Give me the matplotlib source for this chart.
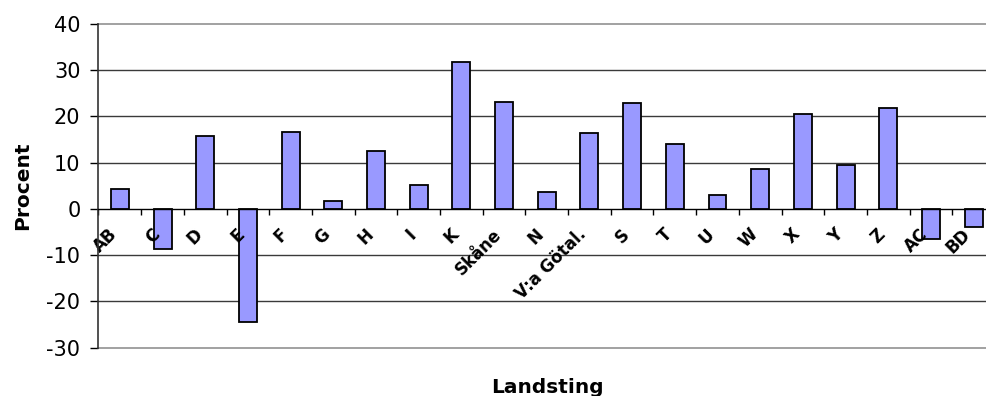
import matplotlib
matplotlib.use("Agg")
import matplotlib.pyplot as plt
import numpy as np

categories = ["AB", "C", "D", "E", "F", "G", "H", "I", "K", "Skåne", "N",
              "V:a Götal.", "S", "T", "U", "W", "X", "Y", "Z", "AC", "BD"]
values = [4.3, -8.7, 15.7, -24.5, 16.7, 1.8, 12.6, 5.1, 31.8, 23.2, 3.6,
          16.5, 22.9, 14.0, 2.9, 8.7, 20.6, 9.5, 21.9, -6.5, -3.9]
y_ticks = [-30, -20, -10, 0, 10, 20, 30, 40]

plt.rcParams["font.family"] = ["DejaVu Sans"]

W, H = 987, 396
fig = plt.figure(figsize=(W / 100, H / 100), dpi=100)
left, right, top, bottom = 98.5, 995, 24, 347.5
ax = fig.add_axes([left / W, 1 - bottom / H, (right - left) / W, (bottom - top) / H])

x = np.arange(len(categories))
ax.bar(x, values, width=0.42, color="#9999FF", edgecolor="black", linewidth=1.3, zorder=3)

ax.set_xlim(-0.5, len(categories) - 0.5)
ax.set_ylim(-30, 40)
ax.set_yticks(y_ticks)
ax.set_yticklabels([str(v) for v in y_ticks], fontsize=15)

# horizontal gridlines: outer ones lighter
for v in y_ticks:
    if v == 0:
        continue
    c = "#9a9a9a" if v in (40, -30) else "#3a3a3a"
    ax.axhline(v, color=c, linewidth=1.3 if v in (40, -30) else 1.0,
               zorder=1, clip_on=False)

for s in ("top", "right"):
    ax.spines[s].set_visible(False)
ax.spines["left"].set_color("#333333")
ax.spines["left"].set_linewidth(1.2)
ax.spines["left"].set_zorder(4)
ax.spines["bottom"].set_position(("data", 0))
ax.spines["bottom"].set_color("black")
ax.spines["bottom"].set_linewidth(1.0)
ax.spines["bottom"].set_zorder(4)

ax.tick_params(axis="y", length=6, width=1.0, color="black", pad=7)

# category boundaries carry the tick marks, labels sit at centres
ax.set_xticks(x)
ax.set_xticklabels([])
ax.set_xticks(np.arange(len(categories) + 1) - 0.5, minor=True)
ax.tick_params(axis="x", which="major", length=0)
ax.tick_params(axis="x", which="minor", length=4.5, width=1.0, color="black", direction="out")

for xi, lab in zip(x, categories):
    ax.annotate(lab, xy=(xi, 0), xytext=(-4, -16.5), textcoords="offset points",
                rotation=45, rotation_mode="anchor", ha="right", va="center",
                fontsize=12, fontweight="bold", annotation_clip=False)

ax.set_ylabel("Procent", fontsize=14.5, fontweight="bold", labelpad=10)
fig.text(547 / W, 1 - 393 / H, "Landsting", fontsize=14.5, fontweight="bold",
         ha="center", va="baseline")

fig.savefig("out.png", dpi=100)
